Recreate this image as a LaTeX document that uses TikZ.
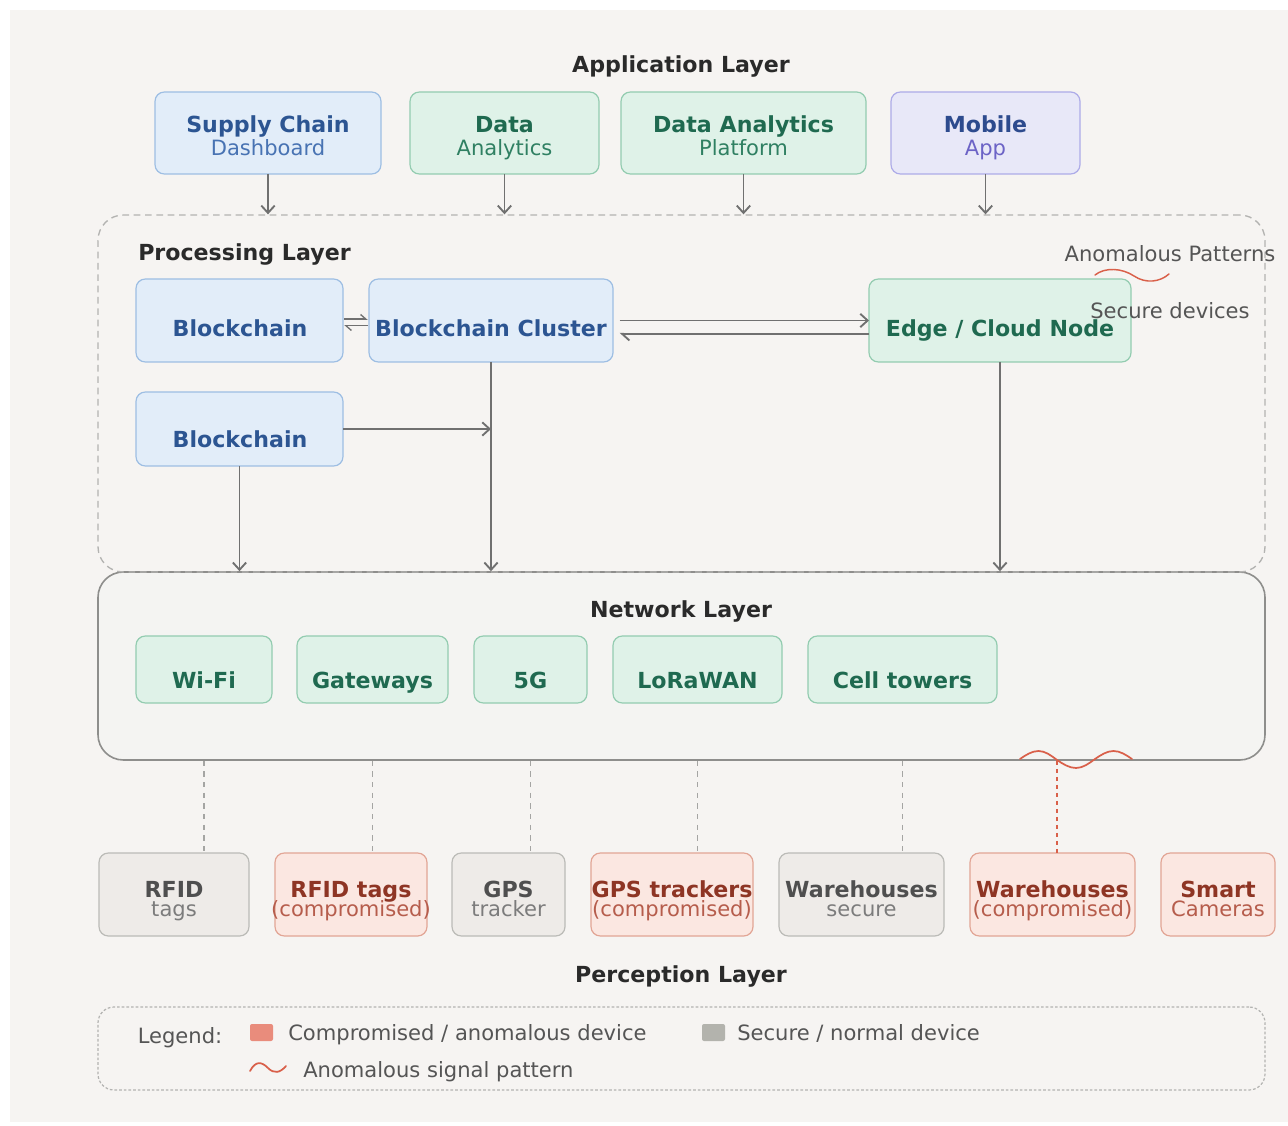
\documentclass[tikz,border=0pt]{standalone}
\usepackage{fontspec}
\setmainfont{DejaVu Sans}
\usetikzlibrary{arrows.meta}
\definecolor{bgc}{HTML}{F6F4F2}
\definecolor{titlec}{HTML}{2A2A2A}
\definecolor{notec}{HTML}{555555}
\definecolor{bluef}{HTML}{E2EDF9}
\definecolor{bluel}{HTML}{9DBEE3}
\definecolor{bluet}{HTML}{2C5592}
\definecolor{blues}{HTML}{4873B3}
\definecolor{greenf}{HTML}{DFF2E8}
\definecolor{greenl}{HTML}{93CCB0}
\definecolor{greent}{HTML}{1F6A50}
\definecolor{greens}{HTML}{2F8062}
\definecolor{purf}{HTML}{E8E8F8}
\definecolor{purl}{HTML}{ADABE8}
\definecolor{purt}{HTML}{2D4B8E}
\definecolor{purs}{HTML}{6C63C6}
\definecolor{grayf}{HTML}{EEEBE8}
\definecolor{grayl}{HTML}{BBBBB7}
\definecolor{grayt}{HTML}{4F4F4F}
\definecolor{grays}{HTML}{7C7C7C}
\definecolor{redf}{HTML}{FBE7E1}
\definecolor{redl}{HTML}{E2A595}
\definecolor{redt}{HTML}{8E3524}
\definecolor{reds}{HTML}{B65D4C}
\definecolor{netf}{HTML}{F4F4F2}
\definecolor{netl}{HTML}{8E8E8C}
\definecolor{dashc}{HTML}{B3B3B1}
\definecolor{connc}{HTML}{A5A5A3}
\definecolor{arrc}{HTML}{707070}
\definecolor{wavec}{HTML}{D9604A}
\definecolor{legred}{HTML}{E98C7C}
\definecolor{leggray}{HTML}{B3B3AD}
\begin{document}
\begin{tikzpicture}[x=0.75pt,y=-0.75pt,
 bx/.style n args={4}{at={({(#1+#3)/2},{(#2+#4)/2})},minimum width={(#3-#1)*0.75pt},minimum height={(#4-#2)*0.75pt}},
 box/.style={draw,rounded corners=7pt,line width=0.9pt,inner sep=0pt,outer sep=0pt},
 bluebox/.style={box,fill=bluef,draw=bluel},
 greenbox/.style={box,fill=greenf,draw=greenl},
 purbox/.style={box,fill=purf,draw=purl},
 graybox/.style={box,fill=grayf,draw=grayl},
 redbox/.style={box,fill=redf,draw=redl},
 procbox/.style={draw=dashc,line width=1pt,dash pattern=on 5pt off 3.5pt,rounded corners=19pt,inner sep=0pt},
 netbox/.style={fill=netf,draw=netl,line width=1.2pt,rounded corners=19pt,inner sep=0pt},
 legbox/.style={draw=dashc,line width=0.9pt,dash pattern=on 2pt off 1.5pt,rounded corners=12pt,inner sep=0pt},
 bigt/.style={font=\fontsize{16.6}{20}\selectfont\bfseries,anchor=base,inner sep=0pt},
 subt/.style={font=\fontsize{15.8}{19}\selectfont,anchor=base,inner sep=0pt},
 note/.style={subt,text=notec},
 arr/.style={draw=arrc,line width=1.4pt,-{Straight Barb[length=5.5pt,width=10pt]}},
 arrsm/.style={draw=arrc,line width=1pt,-{Straight Barb[harpoon,length=4pt,width=7pt]}},
 conn/.style={draw=connc,line width=1pt,dash pattern=on 4pt off 4pt},
 wave/.style={draw=wavec,line width=1.3pt,line cap=round}
]
\useasboundingbox (0,0) rectangle (1288,1126);
\fill[white] (0,0) rectangle (1288,1126);
\fill[bgc] (10,10) rectangle (1288,1122);

% layers
\node[netbox,bx={98}{572}{1265}{760}] (net) {};
\node[procbox,bx={98}{215}{1265}{572}] (proc) {};
\node[legbox,bx={98}{1007}{1265}{1090}] (leg) {};

% titles
\node[bigt,text=titlec] (tapp) at (681,73) {Application Layer};
\node[bigt,text=titlec,anchor=base west] (tproc) at (138,261) {Processing Layer};
\node[bigt,text=titlec] (tnet) at (681,617) {Network Layer};
\node[bigt,text=titlec] (tper) at (681,982) {Perception Layer};

% application layer
\node[bluebox,bx={155}{92}{381}{174}] (scd) {};
\node[greenbox,bx={410}{92}{599}{174}] (da) {};
\node[greenbox,bx={621}{92}{866}{174}] (dap) {};
\node[purbox,bx={891}{92}{1080}{174}] (mob) {};
\node[bigt,text=bluet] (scd1) at (268,133) {Supply Chain};
\node[subt,text=blues] (scd2) at (268,156) {Dashboard};
\node[bigt,text=greent] (da1) at (504.5,133) {Data};
\node[subt,text=greens] (da2) at (504.5,156) {Analytics};
\node[bigt,text=greent] (dap1) at (743.5,133) {Data Analytics};
\node[subt,text=greens] (dap2) at (743.5,156) {Platform};
\node[bigt,text=purt] (mob1) at (985.5,133) {Mobile};
\node[subt,text=purs] (mob2) at (985.5,156) {App};
\foreach \n in {scd,da,dap,mob} \draw[arr] (\n.south) -- (\n.south |- proc.north);

% processing layer
\node[bluebox,bx={136}{279}{343}{362}] (bc1) {};
\node[bluebox,bx={369}{279}{613}{362}] (bcc) {};
\node[greenbox,bx={869}{279}{1131}{362}] (edge) {};
\node[bluebox,bx={136}{392}{343}{466}] (bc2) {};
\node[bigt,text=bluet] (bc1t) at (240,337) {Blockchain};
\node[bigt,text=bluet] (bcct) at (491,337) {Blockchain Cluster};
\node[bigt,text=greent] (edget) at (1000,337) {Edge / Cloud Node};
\node[bigt,text=bluet] (bc2t) at (240,448) {Blockchain};
\node[note] (anp) at (1170,262) {Anomalous Patterns};
\node[note] (sdv) at (1170,319) {Secure devices};
\draw[wave,line width=1.1pt] (1095,275) .. controls (1105,267) and (1122,268) .. (1134,276) .. controls (1146,284) and (1160,282) .. (1169,274);

\draw[arrsm] ([xshift=1pt,yshift=1pt]bc1.east) -- ([xshift=-1pt,yshift=1pt]bcc.west);
\draw[arrsm] ([xshift=-1pt,yshift=-4pt]bcc.west) -- ([xshift=1pt,yshift=-4pt]bc1.east);
\draw[arr] ([xshift=5pt]bcc.east) -- (edge.west);
\draw[draw=arrc,line width=1.4pt,-{Straight Barb[harpoon,length=5.5pt,width=10pt]}] ([yshift=-10pt]edge.west) -- ([xshift=5pt,yshift=-10pt]bcc.east);
\draw[arr] (bc2.east) -- (bc2.east -| bcc.south);
\draw[arr] (bc2.south) -- (bc2.south |- net.north);
\draw[arr] (bcc.south) -- (bcc.south |- net.north);
\draw[arr] (edge.south) -- (edge.south |- net.north);

% network layer
\node[greenbox,bx={136}{636}{272}{703}] (wifi) {};
\node[greenbox,bx={297}{636}{448}{703}] (gw) {};
\node[greenbox,bx={474}{636}{587}{703}] (g5) {};
\node[greenbox,bx={613}{636}{782}{703}] (lora) {};
\node[greenbox,bx={808}{636}{997}{703}] (cell) {};
\node[bigt,text=greent] (wifit) at (204,688) {Wi-Fi};
\node[bigt,text=greent] (gwt) at (372.5,688) {Gateways};
\node[bigt,text=greent] (g5t) at (530.5,688) {5G};
\node[bigt,text=greent] (lorat) at (697.5,688) {LoRaWAN};
\node[bigt,text=greent] (cellt) at (902.5,688) {Cell towers};

% perception layer
\node[graybox,bx={99}{853}{249}{936}] (rfid) {};
\node[redbox,bx={275}{853}{427}{936}] (rfidc) {};
\node[graybox,bx={452}{853}{565}{936}] (gps) {};
\node[redbox,bx={591}{853}{753}{936}] (gpsc) {};
\node[graybox,bx={779}{853}{944}{936}] (whs) {};
\node[redbox,bx={970}{853}{1135}{936}] (whc) {};
\node[redbox,bx={1161}{853}{1275}{936}] (cam) {};
\node[bigt,text=grayt] (rfid1) at (174,897) {RFID};
\node[subt,text=grays] (rfid2) at (174,916) {tags};
\node[bigt,text=redt] (rfidc1) at (351,897) {RFID tags};
\node[subt,text=reds] (rfidc2) at (351,916) {(compromised)};
\node[bigt,text=grayt] (gps1) at (508.5,897) {GPS};
\node[subt,text=grays] (gps2) at (508.5,916) {tracker};
\node[bigt,text=redt] (gpsc1) at (672,897) {GPS trackers};
\node[subt,text=reds] (gpsc2) at (672,916) {(compromised)};
\node[bigt,text=grayt] (whs1) at (861.5,897) {Warehouses};
\node[subt,text=grays] (whs2) at (861.5,916) {secure};
\node[bigt,text=redt] (whc1) at (1052.5,897) {Warehouses};
\node[subt,text=reds] (whc2) at (1052.5,916) {(compromised)};
\node[bigt,text=redt] (cam1) at (1218,897) {Smart};
\node[subt,text=reds] (cam2) at (1218,916) {Cameras};

\foreach \a/\b in {wifi/rfid,gw/rfidc,g5/gps,lora/gpsc,cell/whs}
  \draw[conn] (\a.south |- net.south) -- (\a.south |- \b.north);
\coordinate (rx) at ([xshift=3.4pt]whc.north);
\draw[conn,draw=wavec,dash pattern=on 3pt off 3pt] (rx |- net.south) -- (rx);
\draw[wave] (1020,759) sin (1038.5,751) cos (1057,760) sin (1076,768) cos (1095,759) sin (1113.5,751) cos (1132,759);

% legend
\node[subt,text=notec] (legt) at (180,1043) {Legend:};
\node[fill=legred,rounded corners=1.5pt,inner sep=0pt,bx={250}{1024}{273}{1041}] (sqr) {};
\node[subt,text=notec,anchor=base west] (legc) at (288,1040) {Compromised / anomalous device};
\node[fill=leggray,rounded corners=1.5pt,inner sep=0pt,bx={702}{1024}{725}{1041}] (sqg) {};
\node[subt,text=notec,anchor=base west] (legs) at (737,1040) {Secure / normal device};
\draw[wave] (250,1071) .. controls (256,1060) and (262,1062) .. (268,1068) .. controls (274,1074) and (280,1073) .. (286,1066);
\node[subt,text=notec,anchor=base west] (lega) at (303,1077) {Anomalous signal pattern};
\end{tikzpicture}
\end{document}
